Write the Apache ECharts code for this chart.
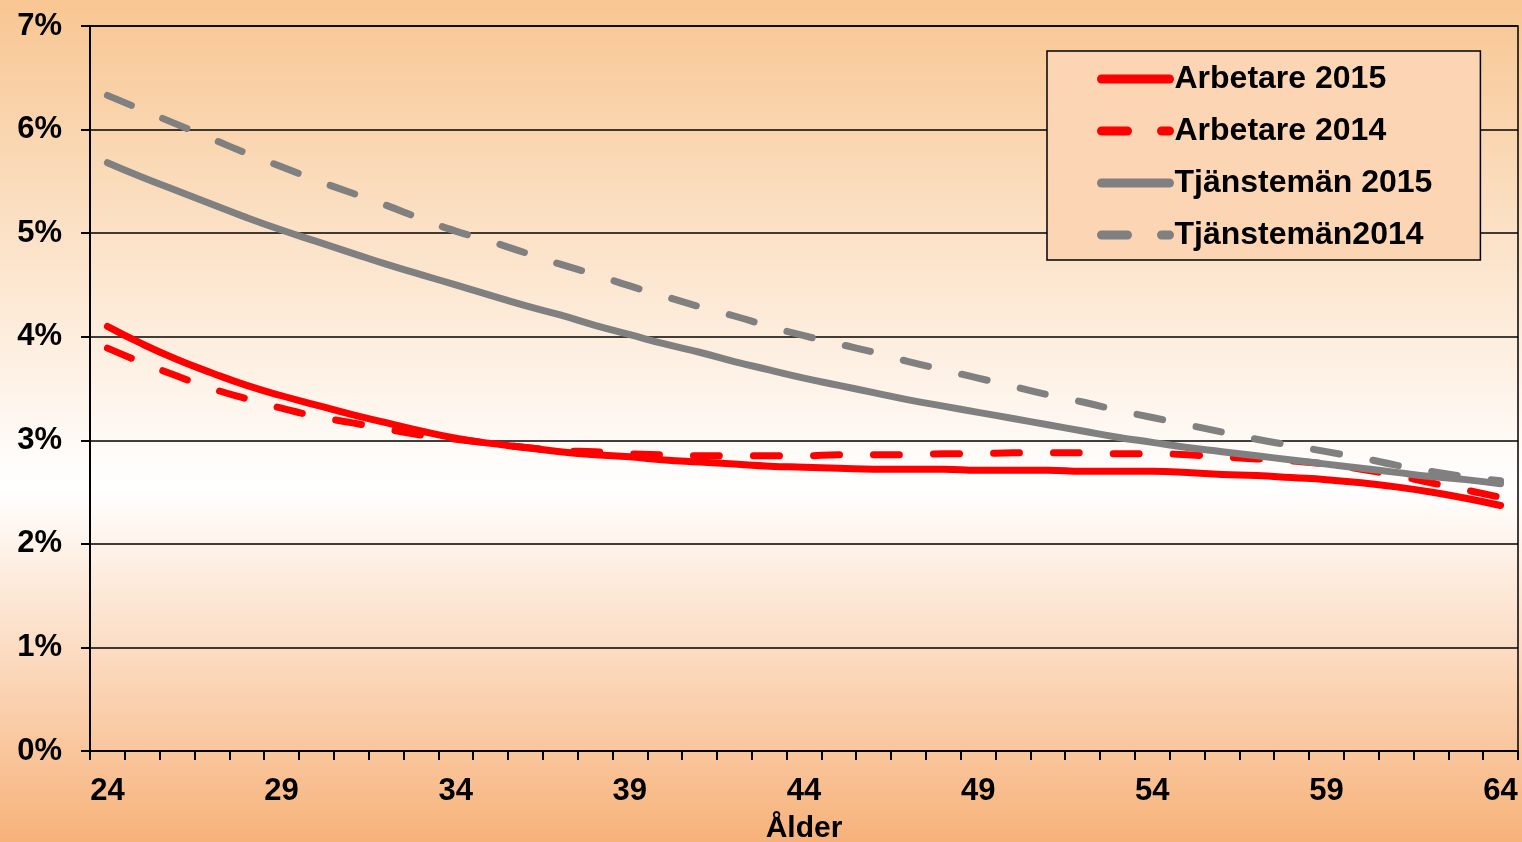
<!DOCTYPE html>
<html>
<head>
<meta charset="utf-8">
<script src="https://cdn.jsdelivr.net/npm/echarts@6/dist/echarts.min.js"></script>
<style>
  html, body { margin: 0; padding: 0; width: 1522px; height: 842px; overflow: hidden; }
  #chart { width: 1522px; height: 842px; }
</style>
</head>
<body>
<div id="chart"></div>
<script>
// Categories: age 24..64
const ages = ['24','25','26','27','28','29','30','31','32','33','34','35','36','37','38','39','40','41','42','43','44','45','46','47','48','49','50','51','52','53','54','55','56','57','58','59','60','61','62','63','64'];

// Values in percent
const arbetare2015 = [4.10,3.93,3.78,3.65,3.53,3.43,3.34,3.25,3.17,3.09,3.02,2.97,2.93,2.89,2.86,2.84,2.81,2.79,2.77,2.75,2.74,2.73,2.72,2.72,2.72,2.71,2.71,2.71,2.70,2.70,2.70,2.69,2.67,2.66,2.64,2.62,2.59,2.55,2.50,2.44,2.37];
const arbetare2014 = [3.89,3.75,3.62,3.50,3.40,3.31,3.23,3.17,3.11,3.05,3.01,2.97,2.93,2.90,2.89,2.87,2.86,2.85,2.85,2.85,2.85,2.86,2.86,2.86,2.87,2.87,2.88,2.88,2.88,2.87,2.87,2.86,2.84,2.82,2.80,2.77,2.72,2.66,2.59,2.52,2.45];
const tjansteman2015 = [5.68,5.54,5.41,5.28,5.15,5.03,4.92,4.81,4.70,4.60,4.50,4.40,4.30,4.21,4.11,4.02,3.93,3.85,3.76,3.68,3.60,3.53,3.46,3.39,3.33,3.27,3.21,3.15,3.09,3.03,2.98,2.93,2.89,2.85,2.81,2.77,2.73,2.69,2.65,2.62,2.58];
const tjansteman2014 = [6.33,6.19,6.05,5.91,5.77,5.64,5.51,5.39,5.27,5.14,5.02,4.92,4.81,4.70,4.60,4.49,4.39,4.29,4.20,4.10,4.01,3.93,3.85,3.76,3.68,3.60,3.52,3.44,3.37,3.29,3.22,3.15,3.08,3.01,2.95,2.89,2.83,2.76,2.70,2.65,2.61];

const seriesNames = ['Arbetare 2015', 'Arbetare 2014', 'Tjänstemän 2015', 'Tjänstemän2014'];
const xAxisName = 'Ålder';

const FONT = '"Liberation Sans", Arial, sans-serif';
const RED = '#FF0000';
const GRAY = '#808080';
const DASH = [26, 34];

const chart = echarts.init(document.getElementById('chart'), null, { renderer: 'canvas', width: 1522, height: 842 });

function mkSeries(name, data, color, dashed) {
  return {
    name: name,
    type: 'line',
    data: data,
    symbol: 'none',
    showSymbol: false,
    smooth: true,
    lineStyle: {
      color: color,
      width: 7,
      type: dashed ? DASH : 'solid',
      cap: 'round',
      join: 'round'
    },
    itemStyle: { color: color },
    emphasis: { disabled: true },
    animation: false
  };
}

const option = {
  animation: false,
  backgroundColor: {
    type: 'linear', x: 0, y: 0, x2: 0, y2: 1,
    colorStops: [
      { offset: 0, color: '#F8C692' },
      { offset: 0.58, color: '#FFFFFF' },
      { offset: 1, color: '#F7B27A' }
    ]
  },
  textStyle: { fontFamily: FONT },
  grid: {
    left: 90, right: 4, top: 26, bottom: 91,
    outerBoundsMode: 'none',
    containLabel: false,
    show: true,
    borderColor: '#000',
    borderWidth: 1.5,
    backgroundColor: 'transparent'
  },
  legend: {
    orient: 'vertical',
    left: 1047,
    top: 51,
    data: seriesNames,
    itemWidth: 68,
    itemHeight: 20,
    itemGap: 16,
    padding: [10, 48, 7, 50],
    backgroundColor: '#FCD5B4',
    borderColor: '#000',
    borderWidth: 1.5,
    borderRadius: 0,
    lineStyle: { width: 9, cap: 'round' },
    itemStyle: { color: 'rgba(0,0,0,0)', borderColor: 'rgba(0,0,0,0)', borderWidth: 0, opacity: 0 },
    textStyle: {
      color: '#000',
      fontSize: 32,
      fontWeight: 'bold',
      fontFamily: FONT,
      lineHeight: 36
    }
  },
  xAxis: {
    type: 'category',
    data: ages,
    boundaryGap: true,
    name: xAxisName,
    nameLocation: 'middle',
    nameGap: 63,
    nameTextStyle: { color: '#000', fontSize: 30, fontWeight: 'bold', fontFamily: FONT },
    axisLine: { show: true, lineStyle: { color: '#000', width: 2 } },
    axisTick: { show: true, interval: 0, length: 9, lineStyle: { color: '#000', width: 2 } },
    axisLabel: {
      interval: 4,
      color: '#000',
      fontSize: 31,
      fontWeight: 'bold',
      fontFamily: FONT,
      margin: 25
    },
    splitLine: { show: false }
  },
  yAxis: {
    type: 'value',
    min: 0,
    max: 7,
    interval: 1,
    axisLine: { show: true, lineStyle: { color: '#000', width: 2 } },
    axisTick: { show: true, length: 9, lineStyle: { color: '#000', width: 2 } },
    axisLabel: {
      formatter: function (v) { return v + '%'; },
      color: '#000',
      fontSize: 31,
      fontWeight: 'bold',
      fontFamily: FONT,
      margin: 28
    },
    splitLine: { show: true, lineStyle: { color: '#000', width: 1.5 } }
  },
  series: [
    mkSeries(seriesNames[0], arbetare2015, RED, false),
    mkSeries(seriesNames[1], arbetare2014, RED, true),
    mkSeries(seriesNames[2], tjansteman2015, GRAY, false),
    mkSeries(seriesNames[3], tjansteman2014, GRAY, true)
  ]
};

chart.setOption(option);
</script>
</body>
</html>
